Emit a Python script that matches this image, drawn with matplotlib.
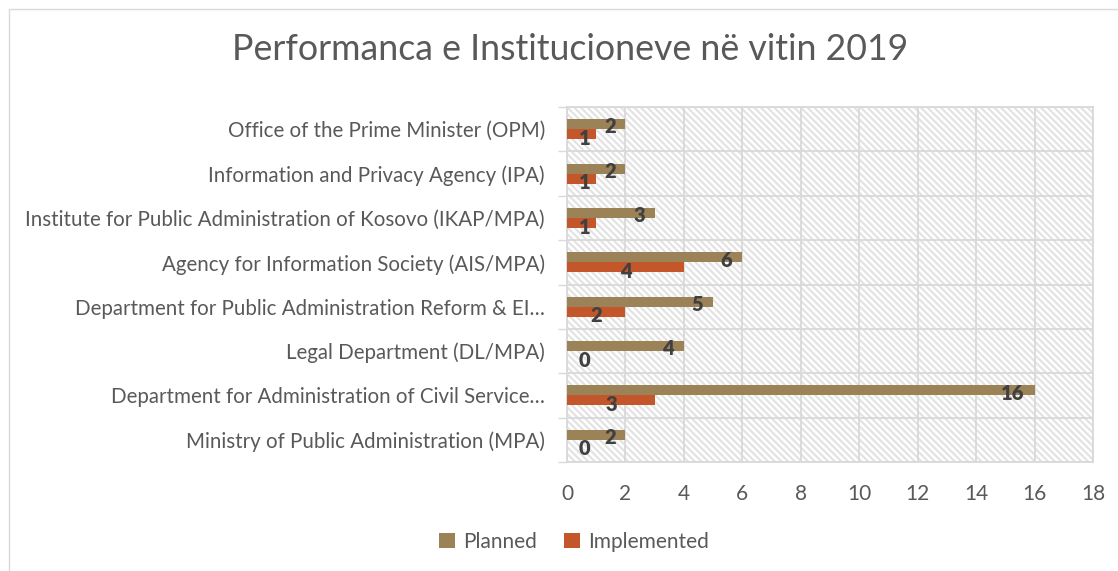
import matplotlib
matplotlib.use("Agg")
import matplotlib.pyplot as plt
from matplotlib.patches import Rectangle, Patch
import numpy as np

plt.rcParams['font.family'] = ['Lato', 'DejaVu Sans']
plt.rcParams['hatch.linewidth'] = 1.5

categories = [
    "Ministry of Public Administration (MPA)",
    "Department for Administration of Civil Service…",
    "Legal Department (DL/MPA)",
    "Department for Public Administration Reform & EI…",
    "Agency for Information Society (AIS/MPA)",
    "Institute for Public Administration of Kosovo (IKAP/MPA)",
    "Information and Privacy Agency (IPA)",
    "Office of the Prime Minister (OPM)",
]
planned = [2, 16, 4, 5, 6, 3, 2, 2]
implemented = [0, 3, 0, 2, 4, 1, 1, 1]
xticks = [0, 2, 4, 6, 8, 10, 12, 14, 16, 18]
title = "Performanca e Institucioneve në vitin 2019"
series_names = ["Planned", "Implemented"]

c_planned = "#9C8357"
c_impl = "#C3562A"
txt = "#595959"
grid_c = "#D9D9D9"

W, H = 1118, 571
fig = plt.figure(figsize=(W / 100, H / 100), dpi=100)

# outer chart border (top and left visible)
fig.patches.append(Rectangle((9 / W, -0.1), 1.2, 1.1 - 9 / H, transform=fig.transFigure,
                             fill=False, edgecolor=grid_c, lw=1.0, clip_on=False))

ax = fig.add_axes([567 / W, 1 - 462 / H, (1093 - 567) / W, (462 - 107) / H])

# hatched background
ax.add_patch(Rectangle((0, 0), 1, 1, transform=ax.transAxes, facecolor="white",
                       edgecolor="#E2E2E2", hatch="\\\\\\\\\\", lw=0, zorder=0.1))

y = np.arange(len(categories))
bh = 0.225
ax.barh(y + bh / 2, planned, height=bh, color=c_planned, zorder=3)
ax.barh(y - bh / 2, implemented, height=bh, color=c_impl, zorder=3)

lab_kw = dict(fontsize=14.5, fontweight="heavy", color="#404040", zorder=5)
for yi, v in zip(y, planned):
    ax.annotate(str(v), (v, yi + bh / 2), xytext=(-7, -2), textcoords="offset points",
                ha="right", va="center", **lab_kw)
for yi, v in zip(y, implemented):
    ax.annotate(str(v), (max(v / 2, 0.6), yi - bh / 2), xytext=(0, -3), textcoords="offset points",
                ha="center", va="center", **lab_kw)

ax.set_xlim(0, 18)
ax.set_ylim(-0.5, len(categories) - 0.5)
ax.set_xticks(xticks)
ax.set_xticklabels([str(t) for t in xticks])
ax.set_yticks(y)
ax.set_yticklabels(categories)
ax.set_yticks(np.arange(len(categories) + 1) - 0.5, minor=True)

ax.tick_params(axis="x", length=0, pad=16, labelsize=15, labelcolor=txt)
ax.tick_params(axis="y", which="major", length=0, pad=16, labelsize=14.8, labelcolor=txt)
ax.tick_params(axis="y", which="minor", length=6.5, width=1.0, color=grid_c)

ax.grid(axis="x", which="major", color=grid_c, lw=1.3, zorder=1)
ax.grid(axis="y", which="minor", color=grid_c, lw=1.3, zorder=1)
ax.set_axisbelow(True)
for s in ax.spines.values():
    s.set_color(grid_c)
    s.set_linewidth(1.3)

fig.text(570 / W, 1 - 50 / H, title, ha="center", va="center", fontsize=25.7, color=txt)

handles = [Patch(facecolor=c_planned), Patch(facecolor=c_impl)]
fig.legend(handles, series_names, loc="center", bbox_to_anchor=(574 / W, 1 - 542 / H),
           ncol=2, frameon=False, fontsize=15, labelcolor=txt, handlelength=0.75,
           handleheight=0.75, handletextpad=0.4, columnspacing=1.3)

fig.savefig("out.png", dpi=100)
